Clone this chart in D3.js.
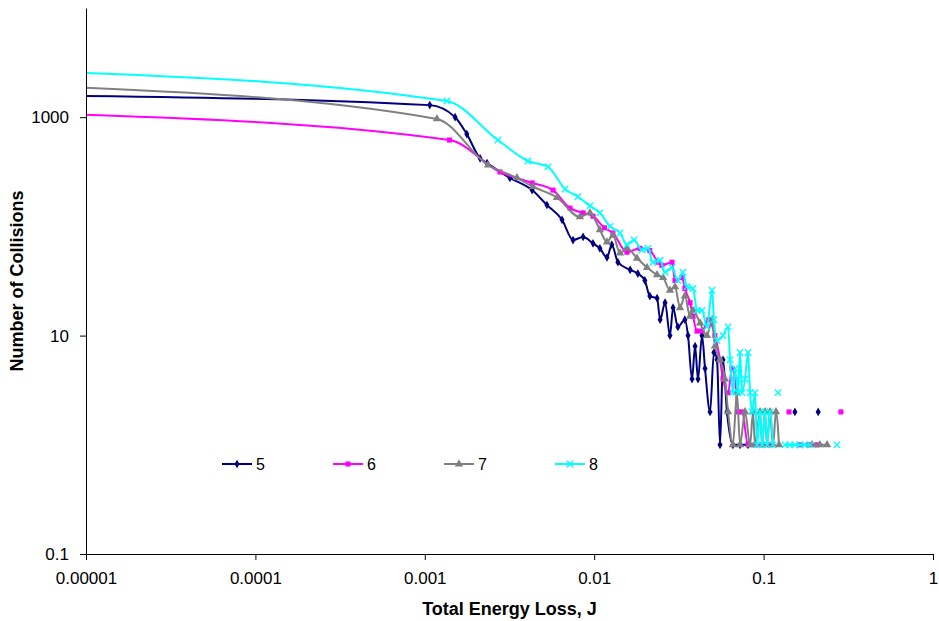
<!DOCTYPE html>
<html>
<head>
<meta charset="utf-8">
<script src="https://cdn.jsdelivr.net/npm/d3@7"></script>
<style>
  body { margin: 0; background: #fff; }
  text { font-family: Arial, "Liberation Sans", sans-serif; }
</style>
</head>
<body>
<svg id="chart"></svg>
<script>
// energy loss (J) and number of collisions per run
// null marks an empty cell, the line breaks there
const energy5 = [0.000009, 0.00107, 0.00151, 0.00177, 0.00212, 0.00233, 0.00318, 0.0043, 0.00526, 0.00646, 0.0075, 0.0086, 0.00984, 0.0108, 0.0119, 0.0127, 0.0138, 0.0163, 0.0181, 0.0199, 0.0213, 0.0235, 0.0245, 0.0262, 0.028, 0.0292, 0.0312, 0.0343, 0.0358, 0.0378, 0.0394, 0.041, 0.0433, 0.0451, 0.0483, 0.0509, 0.0531, 0.0553, 0.0576, 0.0608, 0.0659, 0.0726, 0.0809, null, 0.153, null, 0.21];
const count5 = [1570, 1290, 1000, 700, 420, 380, 278, 215, 157, 115, 75, 80, 70, 63, 52, 68, 47, 40, 37, 32, 23, 22, 14, 20, 10, 18, 12, 14, 10, 4, 8, 4, 10, 5, 2, 7, 6, 1, 6, 2, 1, 1, 1, null, 2, null, 2];

const energy6 = [0.000009, 0.0014, 0.00278, 0.0043, 0.00571, 0.0072, 0.0086, 0.00984, 0.0115, 0.0129, 0.0156, 0.0186, 0.0213, 0.0238, 0.0251, 0.0288, 0.03, 0.033, 0.0343, 0.0368, 0.0383, 0.0405, 0.0433, 0.0475, 0.0516, 0.0553, 0.0576, 0.0617, 0.0651, 0.0678, 0.0706, 0.0746, 0.0809, 0.089, 0.098, 0.109, null, 0.1413, null, 0.164, 0.183, 0.2065, null, 0.286];
const count6 = [1058, 618, 315, 250, 215, 147, 133, 124, 97, 87, 58, 63, 60, 47, 44, 47, 32, 34, 27, 20, 15, 11, 11, 14, 10, 6, 4, 3, 5, 4, 2, 2, 1, 1, 1, 1, null, 2, null, 1, 1, 1, null, 2];

const energy7 = [0.000009, 0.00118, 0.00236, 0.0035, 0.00435, 0.00603, 0.00824, 0.00944, 0.0108, 0.0119, 0.0129, 0.0142, 0.0156, 0.0179, 0.0205, 0.0235, 0.0255, 0.028, 0.03, 0.0321, 0.0343, 0.0368, 0.0383, 0.0422, 0.0463, 0.0496, 0.0516, 0.0553, 0.0592, 0.0617, 0.0659, 0.0696, 0.0726, 0.0777, 0.0832, 0.0866, 0.089, 0.0953, 0.098, 0.1019, 0.1047, 0.109, 0.1137, 0.1183, 0.1233, null, 0.193, 0.215, 0.237];
const count7 = [1870, 964, 365, 278, 231, 184, 122, 133, 93, 72, 83, 57, 63, 51, 42, 36, 34, 26, 28, 18, 23, 15, 17, 13, 10, 14, 8, 6, 4, 2, 1, 3, 1, 2, 1, 2, 1, 2, 1, 2, 1, 2, 1, 2, 1, null, 1, 1, 1];

const energy8 = [0.000009, 0.00135, 0.0027, 0.00406, 0.00534, 0.00673, 0.00802, 0.00944, 0.0108, 0.0124, 0.0142, 0.0156, 0.0172, 0.0191, 0.0208, 0.0222, 0.0245, 0.0262, 0.0288, 0.0312, 0.0334, 0.0353, 0.0383, 0.0405, 0.0433, 0.0463, 0.0496, 0.0509, 0.0531, 0.0576, 0.0617, 0.0634, 0.0659, 0.0678, 0.0706, 0.0726, 0.0746, 0.0777, 0.0809, 0.0832, 0.0855, 0.089, 0.0915, 0.0953, 0.098, 0.1019, 0.105, 0.109, 0.1137, null, 0.1216, null, 0.1337, 0.143, 0.153, 0.164, 0.175, 0.188, null, 0.271];
const count8 = [2550, 1406, 618, 397, 351, 220, 187, 154, 133, 100, 87, 68, 75, 61, 63, 47, 49, 38, 42, 32, 38, 28, 27, 17, 17, 12, 26, 14, 9, 10, 12, 6, 3, 5, 3, 7, 3, 4, 7, 3, 2, 3, 1, 2, 1, 2, 1, 2, 1, null, 3, null, 1, 1, 1, 1, 1, 1, null, 1];

const seriesNames = ['5', '6', '7', '8'];
const xTicks = [0.00001, 0.0001, 0.001, 0.01, 0.1, 1];
const xTickLabels = ['0.00001', '0.0001', '0.001', '0.01', '0.1', '1'];
const yTicks = [0.1, 10, 1000];
const yTickLabels = ['0.1', '10', '1000'];

const wh = { width: 939, height: 621 };
const margin = { top: 8, right: 6, bottom: 67, left: 86 };
const width = wh.width - margin.left - margin.right;
const height = wh.height - margin.top - margin.bottom;

const svg = d3.select('#chart')
  .attr('width', wh.width)
  .attr('height', wh.height);

const g = svg.append('g')
  .attr('transform', `translate(${margin.left},${margin.top})`);

const x = d3.scaleLog().domain([1e-5, 1]).range([0, width]);
const y = d3.scaleLog().domain([0.1, 10000]).range([height, 0]);

const series = [
  { name: seriesNames[0], energy: energy5, count: count5, color: '#000080', symbol: d3.symbolDiamond, size: 22, stroke: false },
  { name: seriesNames[1], energy: energy6, count: count6, color: '#ff00ff', symbol: d3.symbolSquare, size: 26, stroke: false },
  { name: seriesNames[2], energy: energy7, count: count7, color: '#808080', symbol: d3.symbolTriangle, size: 30, stroke: false },
  { name: seriesNames[3], energy: energy8, count: count8, color: '#00ffff', symbol: d3.symbolX, size: 28, stroke: true }
];

// clip to the plot area, the first points lie left of the axis
g.append('clipPath')
  .attr('id', 'plot-clip')
  .append('rect')
  .attr('width', width)
  .attr('height', height);

const line = d3.line()
  .defined(d => d.x != null && d.y != null)
  .x(d => x(d.x))
  .y(d => y(d.y))
  .curve(d3.curveMonotoneX);

const plot = g.append('g').attr('clip-path', 'url(#plot-clip)');

series.forEach(s => {
  const pts = s.energy.map((e, i) => ({ x: e, y: s.count[i] }));

  plot.append('path')
    .datum(pts)
    .attr('d', line)
    .style('fill', 'none')
    .style('stroke', s.color)
    .style('stroke-width', 2);

  const sym = d3.symbol().type(s.symbol).size(s.size);
  plot.selectAll(null)
    .data(pts.filter(d => d.x != null && d.y != null && d.x >= 1e-5))
    .enter().append('path')
    .attr('transform', d => `translate(${x(d.x)},${y(d.y)})`)
    .attr('d', sym)
    .style('fill', s.stroke ? 'none' : s.color)
    .style('stroke', s.stroke ? s.color : 'none')
    .style('stroke-width', 1.4);
});

// axes
const xAxis = d3.axisBottom(x)
  .tickValues(xTicks)
  .tickFormat((d, i) => xTickLabels[i])
  .tickSize(6)
  .tickSizeOuter(0)
  .tickPadding(12);

const yAxis = d3.axisLeft(y)
  .tickValues(yTicks)
  .tickFormat((d, i) => yTickLabels[i])
  .tickSize(6)
  .tickSizeOuter(0)
  .tickPadding(11);

const gx = g.append('g')
  .attr('transform', `translate(0,${height})`)
  .call(xAxis);

const gy = g.append('g')
  .call(yAxis);

[gx, gy].forEach(a => {
  a.select('.domain').style('stroke', '#000').style('stroke-width', 1);
  a.selectAll('.tick line').style('stroke', '#000');
  a.selectAll('.tick text')
    .style('font-size', '17px')
    .style('fill', '#000')
    .style('font-family', 'Arial, "Liberation Sans", sans-serif');
});

// axis titles
svg.append('text')
  .attr('x', margin.left + width / 2)
  .attr('y', 615)
  .attr('text-anchor', 'middle')
  .style('font-size', '18px')
  .style('font-weight', 'bold')
  .text('Total Energy Loss, J');

svg.append('text')
  .attr('transform', `translate(23,${margin.top + height / 2}) rotate(-90)`)
  .attr('text-anchor', 'middle')
  .style('font-size', '18px')
  .style('font-weight', 'bold')
  .text('Number of Collisions');

// legend
const legend = svg.selectAll('.legend')
  .data(series)
  .enter().append('g')
  .attr('class', 'legend')
  .attr('transform', (d, i) => `translate(${222 + i * 111},464)`);

legend.append('line')
  .attr('x1', 0)
  .attr('x2', 30)
  .style('stroke', d => d.color)
  .style('stroke-width', 2);

legend.append('path')
  .attr('transform', 'translate(15,0)')
  .attr('d', d => d3.symbol().type(d.symbol).size(d.size)())
  .style('fill', d => d.stroke ? 'none' : d.color)
  .style('stroke', d => d.stroke ? d.color : 'none')
  .style('stroke-width', 1.4);

legend.append('text')
  .attr('x', 34)
  .attr('dy', '0.36em')
  .style('font-size', '16px')
  .text(d => d.name);
</script>
</body>
</html>
